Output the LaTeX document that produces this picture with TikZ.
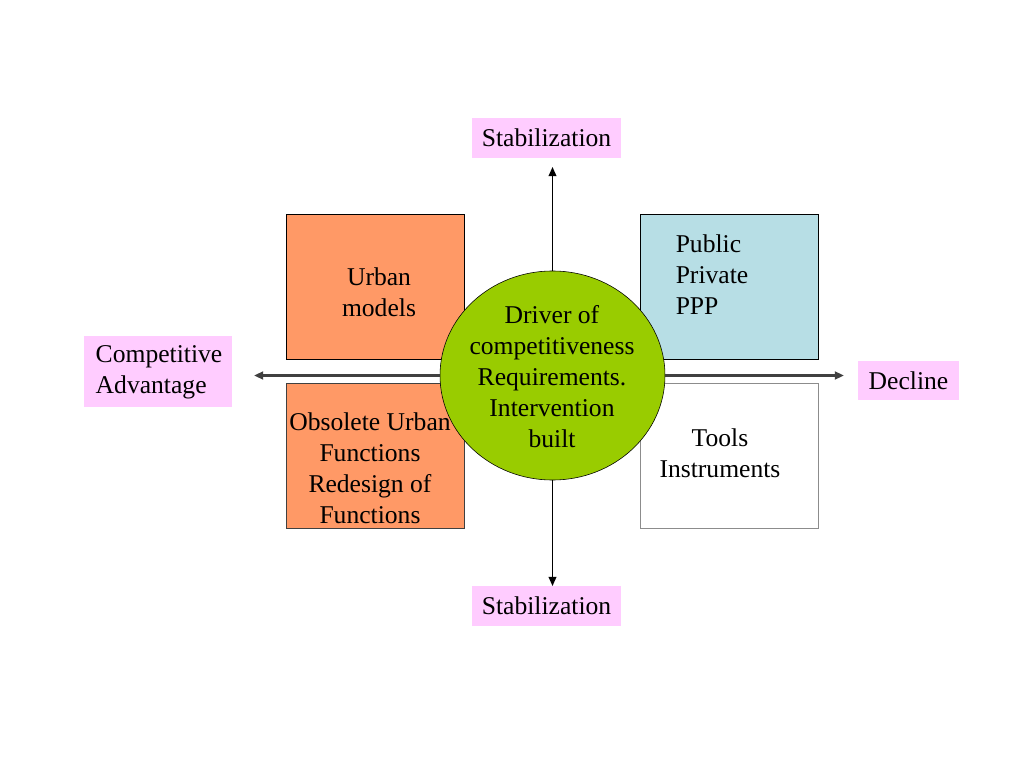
\documentclass[tikz,border=0pt]{standalone}
\usepackage{fontspec}
\setmainfont{Liberation Serif}
\usetikzlibrary{positioning,shapes.geometric,arrows.meta}
\definecolor{myorange}{RGB}{255,153,102}
\definecolor{myblue}{RGB}{183,222,229}
\definecolor{mygreen}{RGB}{153,204,0}
\definecolor{mypink}{RGB}{255,204,255}
\definecolor{mygray}{RGB}{64,64,64}

\begin{document}
\begin{tikzpicture}[x=0.703125pt,y=-0.703125pt,
  font=\fontsize{18}{21.8}\selectfont,
  quad/.style={draw,rectangle,inner sep=0pt,minimum width=125.2pt,minimum height=102pt},
  tag/.style={fill=mypink,inner sep=0pt,minimum height=28.1pt},
  txt/.style={inner sep=0pt,align=center},
  axis/.style={draw=mygray,line width=1.8pt,-{Triangle[length=6.5pt,width=5.5pt]}},
  pole/.style={draw=black,line width=1pt,-{Triangle[length=6.5pt,width=5.5pt]}}]

  \useasboundingbox (0,0) rectangle (1024,768);

  % the four quadrants
  \node[quad,fill=myorange] (urban) at (375,286.5) {};
  \node[quad,fill=myblue] (ppp) at (729.5,286.5) {};
  \node[quad,fill=myorange,draw=mygray] (obsolete) at (375,456) {};
  \node[quad,fill=white,draw=gray!90,line width=0.9pt] (tools) at (729.5,456) {};

  % the end labels
  \node[tag,minimum width=104.8pt] (stabtop) at (546.5,138) {Stabilization};
  \node[tag,minimum width=104.8pt] (stabbot) at (546.5,606) {Stabilization};
  \node[tag,minimum width=104pt,minimum height=50pt] (compadv) at (158,371.5) {};
  \node[tag,minimum width=71pt] (decline) at (908.5,380.5) {Decline};

  \coordinate (topend) at (552.5,167);
  \coordinate (botend) at (552.5,586);
  \coordinate (leftend) at (254,375.5);
  \coordinate (rightend) at (844,375.5);

  % centre
  \node[draw,ellipse,fill=mygreen,inner sep=0pt,minimum width=158.2pt,minimum height=147pt] (driver) at (552.5,375.5) {};

  % draw axes
  \draw[axis] (driver) -- (leftend);
  \draw[axis] (driver) -- (rightend);
  \draw[pole] (driver) -- (topend);
  \draw[pole] (driver) -- (botend);

  % texts
  \node[txt] (urbantxt) at (379,292) {Urban\\models};
  \node[txt,align=left] (ppptxt) at (712,275) {Public\\Private\\PPP};
  \node[txt] (obsoletetxt) at (370,468) {Obsolete Urban\\Functions\\Redesign of\\Functions};
  \node[txt] (toolstxt) at (720,453) {Tools\\Instruments};
  \node[txt] (drivertxt) at (552,377) {Driver of\\competitiveness\\Requirements.\\Intervention\\built};
  \node[txt,align=left] (compadvtxt) at (159,372) {Competitive\\Advantage};

\end{tikzpicture}
\end{document}
